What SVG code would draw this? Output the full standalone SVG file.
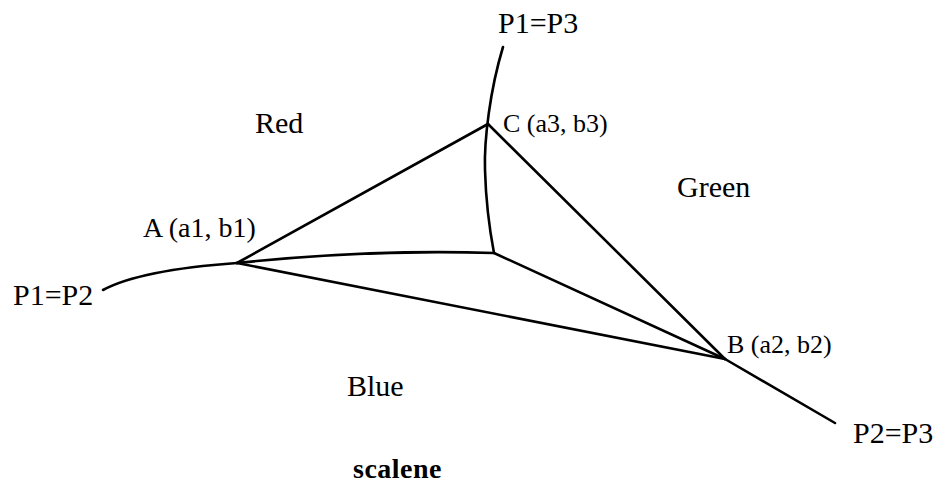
<svg xmlns="http://www.w3.org/2000/svg" width="935" height="487" viewBox="0 0 935 487">
<style>
.ln{fill:none;stroke:#000;stroke-width:2.6;stroke-linecap:round;stroke-linejoin:round}
.t{font-family:"Liberation Serif","Times New Roman","DejaVu Serif",serif;fill:#000}
.pt{font-size:26px}
.rg{font-size:30px}
.bd{font-size:28px;font-weight:bold}
</style>
<rect width="935" height="487" fill="#fff"/>
<g id="connectors">
<path class="ln" d="M503,47 C490,90 484,140 485,170 C486,205 490,232 494,253"/>
<path class="ln" d="M103,290 Q140,270 237,263"/>
<path class="ln" d="M237,263 Q370,249 494,253"/>
<path class="ln" d="M237,263 L488,124"/>
<path class="ln" d="M488,124 L725,359"/>
<path class="ln" d="M237,263 L725,359"/>
<path class="ln" d="M494,253 L725,359"/>
<path class="ln" d="M725,359 L835,423"/>
</g>
<g id="nodeA"><text class="t pt" x="143" y="237" style="font-size:28px">A (a1, b1)</text></g>
<g id="nodeB"><text class="t pt" x="727" y="353">B (a2, b2)</text></g>
<g id="nodeC"><text class="t pt" x="503" y="132">C (a3, b3)</text></g>
<g id="labelP1P3"><text class="t rg" x="498" y="33">P1=P3</text></g>
<g id="labelP1P2"><text class="t rg" x="13" y="305">P1=P2</text></g>
<g id="labelP2P3"><text class="t rg" x="853" y="443">P2=P3</text></g>
<g id="regionRed"><text class="t rg" x="255" y="133">Red</text></g>
<g id="regionGreen"><text class="t rg" x="677" y="197">Green</text></g>
<g id="regionBlue"><text class="t rg" x="347" y="396">Blue</text></g>
<g id="caption"><text class="t bd" x="353" y="478" letter-spacing="0.5">scalene</text></g>
</svg>
